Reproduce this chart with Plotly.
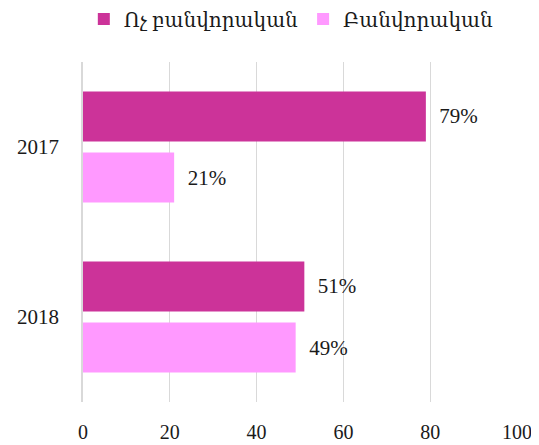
import plotly.graph_objects as go

years = ["2017", "2018"]
non_worker = [79, 51]
worker = [21, 49]
series_names = ["Ոչ բանվորական", "Բանվորական"]
x_ticks = [0, 20, 40, 60, 80, 100]

font_family = "Liberation Serif, DejaVu Serif, Noto Sans, serif"
label_pad = "\u2002"

fig = go.Figure()
fig.add_trace(go.Bar(
    y=years, x=non_worker, orientation="h", name=series_names[0],
    marker=dict(color="#CC3399", line=dict(width=0)),
    text=[f"{label_pad}{v}%" for v in non_worker], textposition="outside",
    textfont=dict(size=21, color="#1a1a1a", family=font_family),
    cliponaxis=False,
))
fig.add_trace(go.Bar(
    y=years, x=worker, orientation="h", name=series_names[1],
    marker=dict(color="#FF99FF", line=dict(width=0)),
    text=[f"{label_pad}{v}%" for v in worker], textposition="outside",
    textfont=dict(size=21, color="#1a1a1a", family=font_family),
    cliponaxis=False,
))

# The page body has an 8px default margin, so the figure is sized to fit the window.
fig.update_layout(
    width=531, height=437,
    margin=dict(l=75, r=22, t=54, b=43, autoexpand=False),
    paper_bgcolor="white", plot_bgcolor="white",
    barmode="group", bargap=0.282, bargroupgap=0.18,
    font=dict(family=font_family, size=20, color="#1a1a1a"),
    legend=dict(orientation="h", x=0.48, xanchor="center",
                yref="container", y=0.975, yanchor="middle",
                font=dict(size=20), traceorder="normal"),
    xaxis=dict(range=[0, 100], tickvals=x_ticks, showgrid=True, gridcolor="#D9D9D9",
               gridwidth=1, zeroline=False, showline=False, ticks="outside", ticklen=12,
               tickcolor="rgba(0,0,0,0)", tickfont=dict(size=20), automargin=False),
    yaxis=dict(autorange="reversed", showgrid=False, showline=True, linecolor="#D9D9D9",
               linewidth=1.5, ticks="outside", ticklen=18, tickcolor="rgba(0,0,0,0)",
               tickfont=dict(size=21), automargin=False),
    showlegend=True,
)

fig.write_html("out.html")
